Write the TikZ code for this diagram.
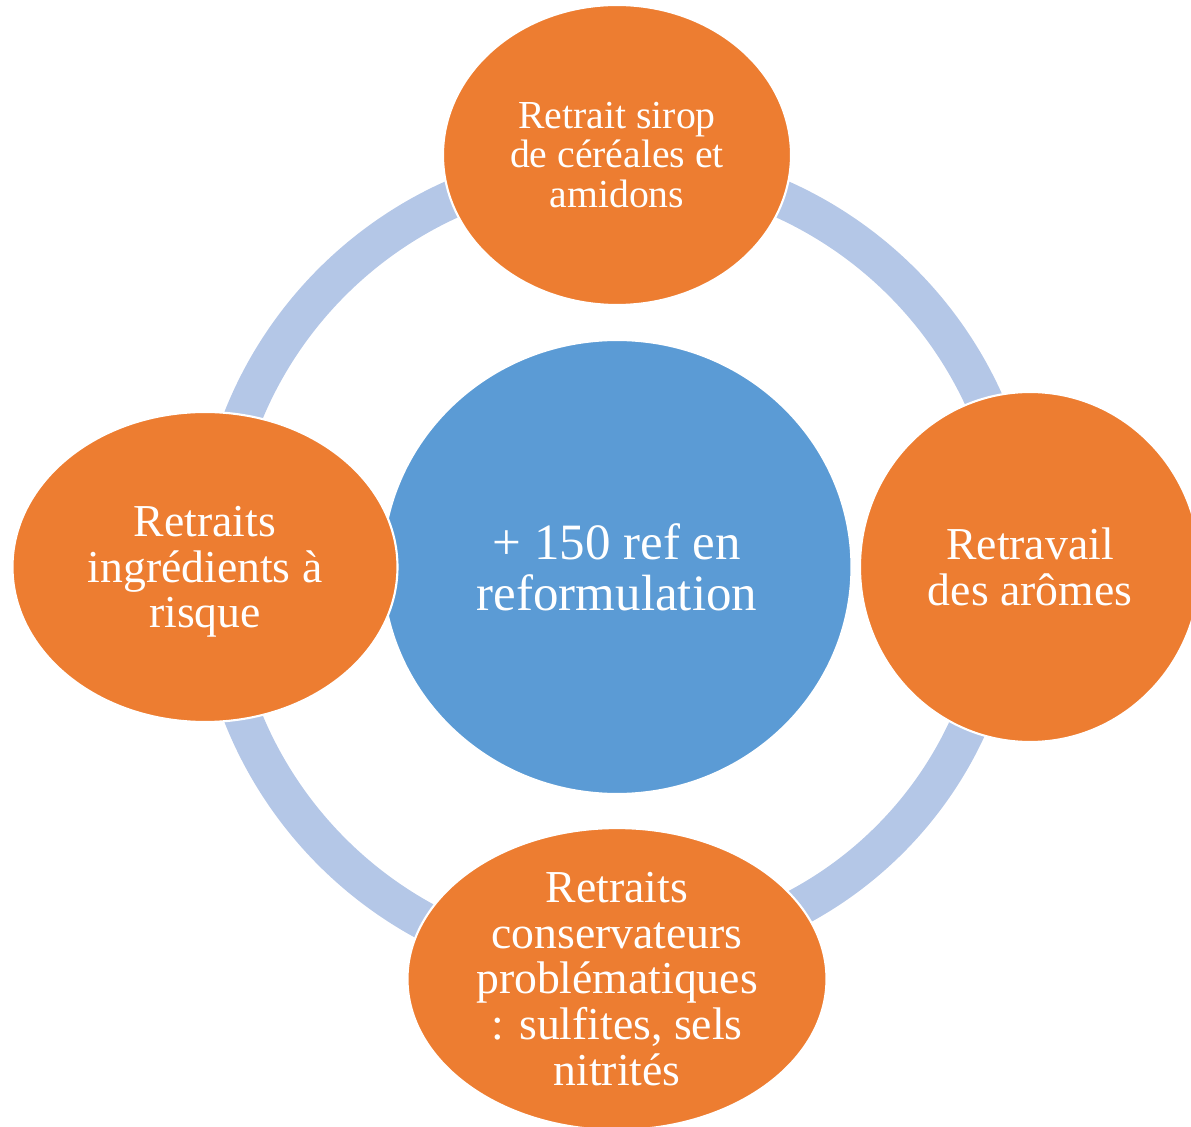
\documentclass[tikz,border=0pt]{standalone}
\usepackage{fontspec}
\setmainfont{Liberation Serif}
\usetikzlibrary{shapes.geometric}
\definecolor{ringblue}{HTML}{B4C7E7}
\definecolor{hubblue}{HTML}{5B9BD5}
\definecolor{leaforange}{HTML}{ED7D31}

\begin{document}
\begin{tikzpicture}[
  ring/.style={ringblue, line width=0.76cm},
  hubdisc/.style={ellipse, fill=hubblue, draw=white, line width=1.2pt, text=white,
    align=center, inner sep=0pt, minimum width=9.38cm, minimum height=9.08cm,
    font=\fontsize{29}{29}\selectfont},
  leaf/.style={ellipse, fill=leaforange, draw=white, line width=1.2pt, text=white,
    align=center, inner sep=0pt, font=\fontsize{26}{26}\selectfont}
]
\useasboundingbox (-12.34,-11.18) rectangle (11.48,11.34);

% Ring
\foreach \a/\r in {0/8.06, 90/8.06, 180/8.06, 270/7.71} {
    \draw[ring] (\a:\r) arc (\a:\a+90:\r);
}

% Centre
\node[hubdisc] (hub) at (0,0) {+ 150 ref en\\reformulation};

% Leaves
\node[leaf, minimum width=6.96cm, minimum height=6cm, font=\fontsize{22.6}{22.6}\selectfont]
  (sirop) at (0,8.24) {Retrait sirop\\de céréales et\\amidons};
\node[leaf, minimum width=6.8cm, minimum height=7cm]
  (aromes) at (8.26,0) {Retravail\\des arômes};
\node[leaf, minimum width=8.38cm, minimum height=5.84cm]
  (conserv) at (0,-8.24) {Retraits\\conservateurs\\problématiques\\: sulfites, sels\\nitrités};
\node[leaf, minimum width=7.7cm, minimum height=6.2cm, text depth=0pt]
  (risque) at (-8.24,0) {Retraits\\ingrédients à\\risque};
\end{tikzpicture}
\end{document}
